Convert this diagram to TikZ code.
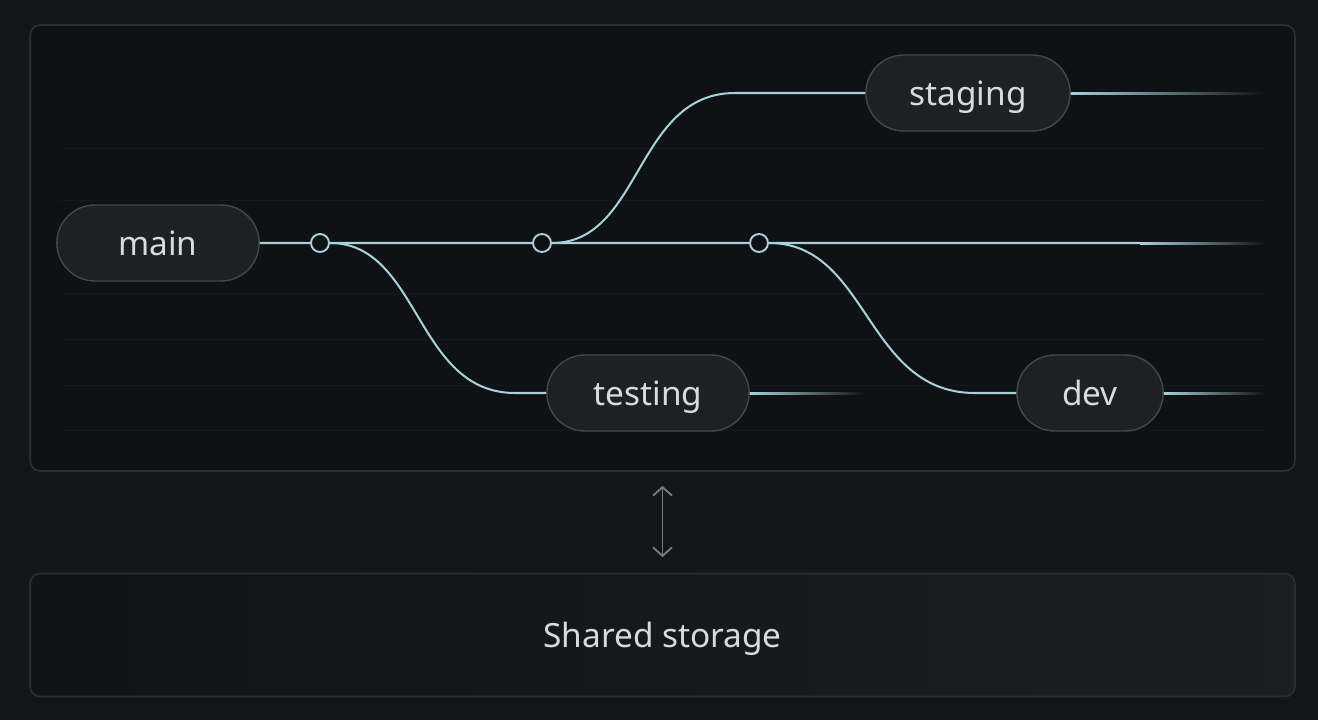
\documentclass[tikz,border=0pt]{standalone}
\usepackage{fontspec}
\setmainfont{Noto Sans}
\usetikzlibrary{arrows.meta,shapes.misc}
\definecolor{bgc}{HTML}{141518}
\definecolor{panelc}{HTML}{101114}
\definecolor{edgec}{HTML}{2B2D31}
\definecolor{pillc}{HTML}{1E2023}
\definecolor{pilledge}{HTML}{44474C}
\definecolor{linec}{HTML}{A6D2DC}
\definecolor{textc}{HTML}{D5DBDE}
\definecolor{arrowc}{HTML}{737980}
\definecolor{stripec}{HTML}{17181B}
\tikzset{
  panel/.style={draw=edgec, line width=1pt, rounded corners=0.2cm, fill=panelc},
  label/.style={text=textc, font=\fontsize{19}{22}\selectfont, text height=13.7pt, text depth=0pt},
  branch/.style={rounded rectangle, draw=pilledge, fill=pillc, line width=0.8pt,
    minimum height=1.52cm, label},
  commit/.style={circle, draw=linec, fill=panelc, line width=1.1pt,
    minimum size=0.36cm, inner sep=0pt},
  wire/.style={draw=linec, line width=1.15pt},
  tail/.style={left color=linec, middle color=linec!75!panelc, right color=panelc},
}
\begin{document}
\begin{tikzpicture}[x=0.02cm, y=-0.02cm]
    \useasboundingbox (0,0) rectangle (1318,720);
    \fill[bgc] (0,0) rectangle (1318,720);
    % panels
    \node[panel, minimum width=25.3cm, minimum height=8.92cm] (gitbox) at (662.5,248) {};
    \foreach \y in {148,200,293,339,385,430}{\draw[stripec, line width=0.5pt] (60,\y) -- (1265,\y);}
    \node[panel, left color=panelc!60!bgc, middle color=pillc, right color=pillc!80!bgc,
      minimum width=25.3cm, minimum height=2.46cm, label] (storage) at (662.5,635) {Shared storage};
    \draw[arrowc, line width=1.1pt, {Straight Barb[length=0.17cm,width=0.38cm]}-{Straight Barb[length=0.17cm,width=0.38cm]}]
      ([yshift=-0.28cm]gitbox.south) -- ([yshift=0.31cm]storage.north);
    % branches
    \node[branch, minimum width=4.28cm] (main) at (158,243) {main};
    \node[branch, minimum width=4.32cm] (staging) at (968,93) {staging};
    \node[branch, minimum width=4.28cm] (testing) at (648,393) {testing};
    \node[branch, minimum width=3.16cm] (dev) at (1090,393) {dev};
    % commits
    \node[commit] (c1) at (320,243) {};
    \node[commit] (c2) at (542,243) {};
    \node[commit] (c3) at (759,243) {};
    \coordinate (tknee) at (515,393);
    \coordinate (sknee) at (735,93);
    \coordinate (dknee) at (975,393);
    \coordinate (mfade) at (1140,243);
    \coordinate (mend) at (1265,243);
    \coordinate (send) at (1265,93);
    \coordinate (tend) at (865,393);
    \coordinate (dend) at (1265,393);
    % wires
    \draw[wire] (main) -- (c1) -- (c2) -- (c3) -- (mfade);
    \draw[wire] (c1) .. controls +(100,0) and +(-100,0) .. (tknee) -- (testing);
    \draw[wire] (c2) .. controls +(100,0) and +(-100,0) .. (sknee) -- (staging);
    \draw[wire] (c3) .. controls +(110,0) and +(-110,0) .. (dknee) -- (dev);
    % tails
    \shade[tail] ([yshift=0.02cm]mfade) rectangle ([yshift=-0.02cm]mend);
    \shade[tail] ([yshift=0.02cm]staging.east) rectangle ([yshift=-0.02cm]send);
    \shade[tail] ([yshift=0.02cm]testing.east) rectangle ([yshift=-0.02cm]tend);
    \shade[tail] ([yshift=0.02cm]dev.east) rectangle ([yshift=-0.02cm]dend);
\end{tikzpicture}
\end{document}
